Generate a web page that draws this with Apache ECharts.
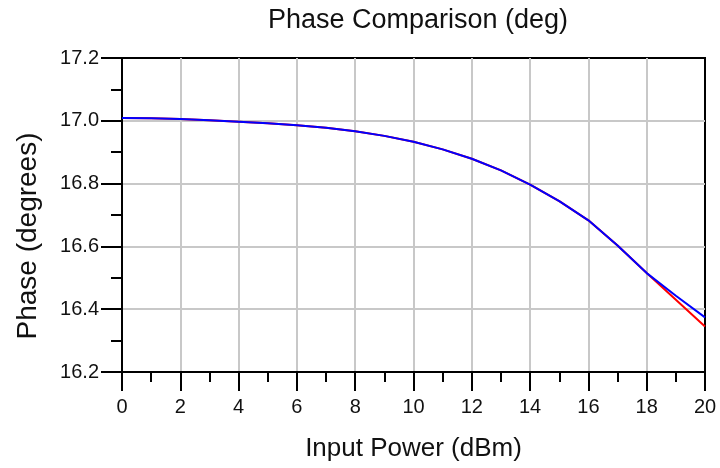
<!DOCTYPE html>
<html>
<head>
<meta charset="utf-8">
<script src="https://cdn.jsdelivr.net/npm/echarts@6/dist/echarts.min.js"></script>
<style>
html,body{margin:0;padding:0;background:#fff;}
#chart{width:720px;height:468px;}
</style>
</head>
<body>
<div id="chart"></div>
<script>
const inputPower = [0,1,2,3,4,5,6,7,8,9,10,11,12,13,14,15,16,17,18,19,20];
const phaseBlue = [17.009,17.008,17.006,17.002,16.997,16.992,16.986,16.978,16.967,16.952,16.933,16.909,16.879,16.842,16.797,16.744,16.683,16.603,16.515,16.443,16.374];
const phaseRed  = [17.009,17.008,17.006,17.002,16.997,16.992,16.986,16.978,16.967,16.952,16.933,16.909,16.879,16.842,16.797,16.744,16.683,16.603,16.515,16.430,16.345];
const titleText = 'Phase Comparison (deg)';
const xName = 'Input Power (dBm)';
const yName = 'Phase (degrees)';

const pairs = (xs, ys) => xs.map((x, i) => [x, ys[i]]);
const FONT = 'Liberation Sans, Arial, sans-serif';

const chart = echarts.init(document.getElementById('chart'), null, {renderer: 'canvas'});
chart.setOption({
  animation: false,
  backgroundColor: '#fff',
  title: {
    text: titleText,
    left: 413, top: 2,
    textAlign: 'center',
    textStyle: {fontFamily: FONT, fontSize: 27, fontWeight: 'normal', color: '#111'}
  },
  grid: {left: 122, right: 15, top: 58, bottom: 96, containLabel: false,
         show: true, borderColor: '#000', borderWidth: 2, backgroundColor: '#fff'},
  xAxis: {
    type: 'value', min: 0, max: 20, interval: 2,
    name: xName, nameLocation: 'middle', nameGap: 64,
    nameTextStyle: {fontFamily: FONT, fontSize: 26, color: '#111'},
    axisLine: {show: true, onZero: false, lineStyle: {color: '#000', width: 2}},
    axisTick: {show: true, inside: false, length: 19, lineStyle: {color: '#000', width: 2}},
    minorTick: {show: true, splitNumber: 2, length: 10, lineStyle: {color: '#000', width: 2}},
    axisLabel: {fontFamily: FONT, fontSize: 20, color: '#111', margin: 25},
    splitLine: {show: true, showMinLine: false, showMaxLine: false, lineStyle: {color: '#c8c8c8', width: 2}}
  },
  yAxis: {
    type: 'value', min: 16.2, max: 17.2, interval: 0.2,
    axisLine: {show: true, onZero: false, lineStyle: {color: '#000', width: 2}},
    axisTick: {show: true, inside: false, length: 21, lineStyle: {color: '#000', width: 2}},
    minorTick: {show: true, splitNumber: 2, length: 11, lineStyle: {color: '#000', width: 2}},
    axisLabel: {fontFamily: FONT, fontSize: 20, color: '#111', margin: 23,
                formatter: v => v.toFixed(1)},
    splitLine: {show: true, showMinLine: false, showMaxLine: false, lineStyle: {color: '#c8c8c8', width: 2}}
  },
  graphic: [{
    type: 'text', x: 28, y: 236, rotation: Math.PI / 2,
    style: {text: yName, font: '28px ' + FONT, fill: '#111', align: 'center', verticalAlign: 'middle'}
  }],
  series: [
    {type: 'line', data: pairs(inputPower, phaseRed), showSymbol: false, symbol: 'none',
     lineStyle: {color: '#ff0000', width: 2}, itemStyle: {color: '#ff0000'}, z: 3},
    {type: 'line', data: pairs(inputPower, phaseBlue), showSymbol: false, symbol: 'none',
     lineStyle: {color: '#0000ff', width: 2}, itemStyle: {color: '#0000ff'}, z: 4}
  ]
});
</script>
</body>
</html>
